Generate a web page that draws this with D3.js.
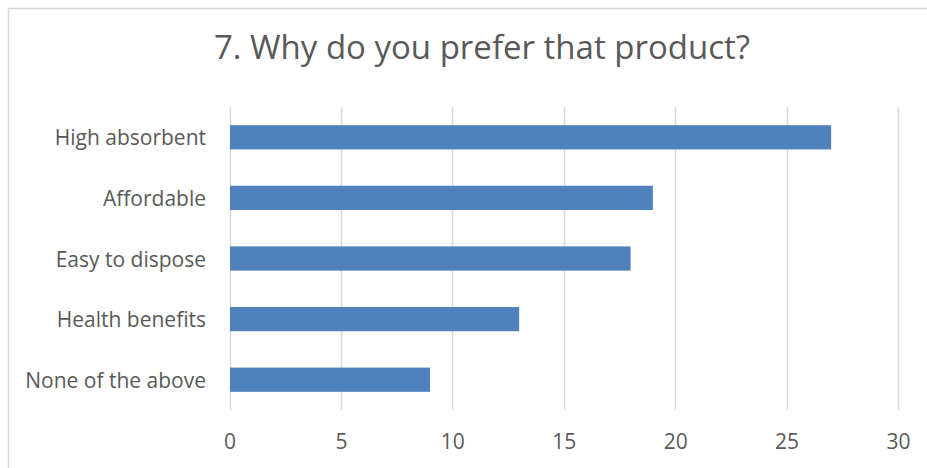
<!DOCTYPE html>
<html><head><meta charset="utf-8">
<script src="https://cdn.jsdelivr.net/npm/d3@7"></script>
<style>
html,body{margin:0;padding:0;background:#fff;}
svg{display:block;}
text{font-family:"Open Sans","Noto Sans",sans-serif;fill:#595959;}
</style></head>
<body>
<svg id="chart" width="927" height="468"></svg>
<script>
const categories = ["High absorbent","Affordable","Easy to dispose","Health benefits","None of the above"];
const values = [27,19,18,13,9];
const tickValues = [0,5,10,15,20,25,30];
const title = "7. Why do you prefer that product?";

const svg = d3.select("#chart");
svg.append("rect").attr("x",8.5).attr("y",8.5).attr("width",940).attr("height",480)
  .attr("fill","#fff").attr("stroke","#d9d9d9").attr("stroke-width",1.5);

svg.append("text").attr("x",482).attr("y",46).attr("text-anchor","middle")
  .attr("dominant-baseline","central").style("font-size","33px").text(title);

const x = d3.scaleLinear().domain([0,30]).range([229.5,898]);
const y = d3.scaleBand().domain(categories).range([107,410]).paddingInner(0.6).paddingOuter(0.3);

const grid = svg.append("g");
grid.selectAll("line").data(tickValues).join("line")
  .attr("x1",d=>Math.round(x(d))+0.5).attr("x2",d=>Math.round(x(d))+0.5)
  .attr("y1",107).attr("y2",410).attr("stroke","#d9d9d9").attr("stroke-width",1.5);

svg.append("g").selectAll("rect").data(values).join("rect")
  .attr("x",x(0)+0.5).attr("y",(d,i)=>y(categories[i]))
  .attr("width",d=>x(d)-x(0)-0.5).attr("height",y.bandwidth()).attr("fill","#4f81bd");

const xAxis = svg.append("g").attr("transform","translate(0,441)")
  .call(d3.axisBottom(x).tickValues(tickValues).tickSize(0).tickPadding(0));
xAxis.select(".domain").remove();
xAxis.selectAll("text").attr("dy",null).attr("dominant-baseline","central")
  .style("font-size","21px").style("font-family",'"Open Sans","Noto Sans",sans-serif').attr("fill","#595959");

const yAxis = svg.append("g").attr("transform","translate(206,0)")
  .call(d3.axisLeft(y).tickSize(0).tickPadding(0));
yAxis.select(".domain").remove();
yAxis.selectAll("text").attr("dy",null).attr("dominant-baseline","central")
  .style("font-size","21px").style("font-family",'"Open Sans","Noto Sans",sans-serif').attr("fill","#595959");
</script>
</body></html>
